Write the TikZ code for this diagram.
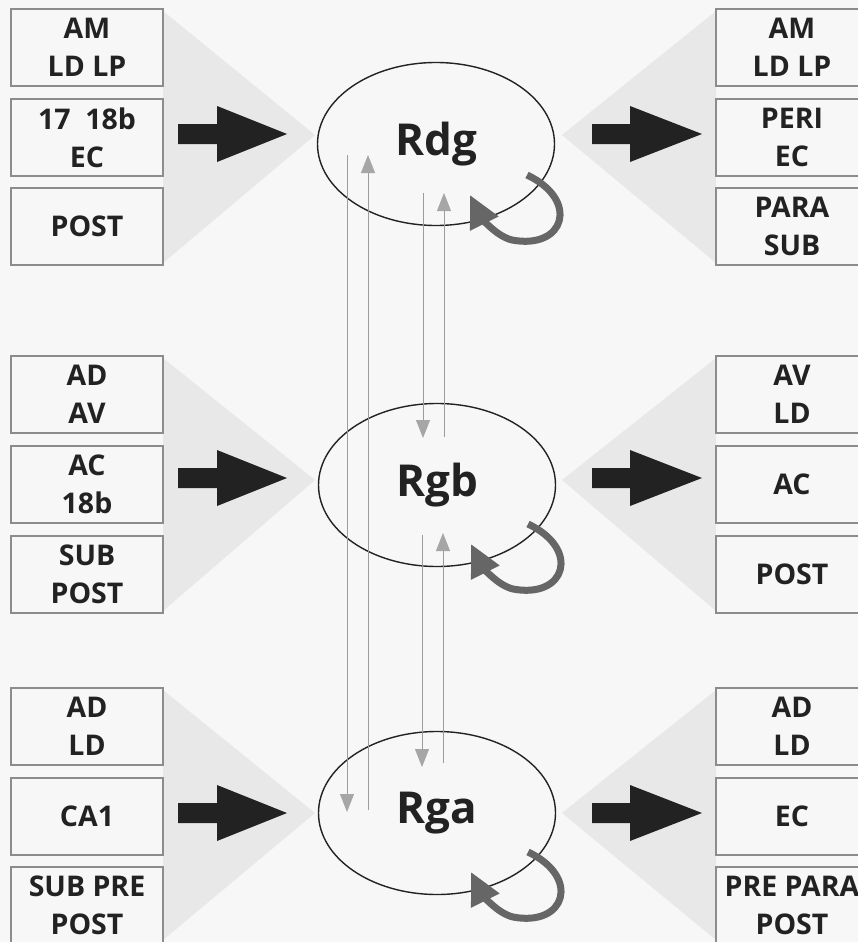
\documentclass[tikz,border=0pt]{standalone}
\usepackage{fontspec}
\setmainfont{Open Sans}
\usetikzlibrary{shapes.geometric,arrows.meta,calc}
\definecolor{bg}{HTML}{F7F7F7}
\definecolor{tri}{HTML}{E8E8E8}
\definecolor{boxline}{HTML}{8C8C8C}
\definecolor{ink}{HTML}{222222}
\definecolor{thin}{HTML}{9C9C9C}
\definecolor{thinhead}{HTML}{A6A6A6}
\definecolor{loopc}{HTML}{666666}
\begin{document}
\begin{tikzpicture}[x=1pt,y=-1pt,
  area/.style={draw=boxline, line width=1.2pt, fill=bg, minimum width=152pt,
    minimum height=77pt, inner sep=0pt, align=center, text=ink,
    font=\fontsize{28.5}{38}\selectfont\bfseries},
  region/.style={ellipse, draw=ink, line width=1.4pt, fill=bg,
    minimum width=237pt, minimum height=163pt, inner sep=0pt, text=ink,
    font=\fontsize{44}{48}\selectfont\bfseries},
  proj/.style={draw=thin, line width=0.9pt,
    -{Triangle[length=18pt,width=14pt,color=thinhead]}},
  selfloop/.style={draw=loopc, line width=7pt, -{Triangle[length=32pt,width=30pt]}},
  bigarrow/.style={fill=ink},
  fan/.style={fill=tri}]
\useasboundingbox (0,0) rectangle (858,942);
\fill[bg] (0,0) rectangle (858,942);
\clip (0,0) rectangle (858,942);

% fans
\fill[fan] (163,11) -- (315,135) -- (163,263) -- cycle;
\fill[fan] (716,11) -- (562,135) -- (716,263) -- cycle;
\fill[fan] (163,358) -- (315,480) -- (163,611) -- cycle;
\fill[fan] (716,358) -- (562,480) -- (716,611) -- cycle;
\fill[fan] (163,690) -- (315,813) -- (163,940) -- cycle;
\fill[fan] (716,690) -- (562,813) -- (716,940) -- cycle;

% left boxes
\node[area] (l11) at (87,47.5) {AM\\LD LP};
\node[area] (l12) at (87,137.5) {17\ \ 18b\\EC};
\node[area] (l13) at (87,226.5) {POST};
\node[area] (l21) at (87,394.5) {AD\\AV};
\node[area] (l22) at (87,484.5) {AC\\18b};
\node[area] (l23) at (87,574.5) {SUB\\POST};
\node[area] (l31) at (87,726.5) {AD\\LD};
\node[area] (l32) at (87,816.5) {CA1};
\node[area] (l33) at (87,905.5) {SUB PRE\\POST};
% right boxes
\node[area] (r11) at (792,47.5) {AM\\LD LP};
\node[area] (r12) at (792,137.5) {PERI\\EC};
\node[area] (r13) at (792,226.5) {PARA\\SUB};
\node[area] (r21) at (792,394.5) {AV\\LD};
\node[area] (r22) at (792,484.5) {AC};
\node[area] (r23) at (792,574.5) {POST};
\node[area] (r31) at (792,726.5) {AD\\LD};
\node[area] (r32) at (792,816.5) {EC};
\node[area] (r33) at (792,905.5) {PRE PARA\\POST};

% big arrows
\foreach \a in {134,478,813}{
  \fill[bigarrow] (178,\a-10) -- (217,\a-10) -- (217,\a-28) -- (287,\a)
     -- (217,\a+28) -- (217,\a+10) -- (178,\a+10) -- cycle;
  \fill[bigarrow] (592,\a-10) -- (630,\a-10) -- (630,\a-28) -- (702,\a)
     -- (630,\a+28) -- (630,\a+10) -- (592,\a+10) -- cycle;
}

% regions
\node[region] (rdg) at (436,144) {Rdg};
\node[region] (rgb) at (437,485) {Rgb};
\node[region] (rga) at (437,813) {Rga};

% projection end points
\coordinate (a1) at (347,155);  \coordinate (a2) at (347,812);
\coordinate (b1) at (368,810);  \coordinate (b2) at (368,155);
\coordinate (c1) at (423,193);  \coordinate (c2) at (423,438);
\coordinate (d1) at (444,437);  \coordinate (d2) at (444,193);
\coordinate (e1) at (422,535);  \coordinate (e2) at (422,767);
\coordinate (f1) at (443,763);  \coordinate (f2) at (443,533);

\draw[proj] (a1) -- (a2);
\draw[proj] (b1) -- (b2);
\draw[proj] (c1) -- (c2);
\draw[proj] (d1) -- (d2);
\draw[proj] (e1) -- (e2);
\draw[proj] (f1) -- (f2);

% self loops
\foreach \n/\d in {rdg/0, rgb/8, rga/8}{
  \begin{scope}[shift={(\n.center)}]
    \draw[selfloop] (91,31+\d) .. controls (144,56+\d) and (129,106+\d) .. (76,96+\d)
       .. controls (59,92+\d) and (44,71+\d) .. (34,51+\d);
  \end{scope}
}
\end{tikzpicture}
\end{document}
